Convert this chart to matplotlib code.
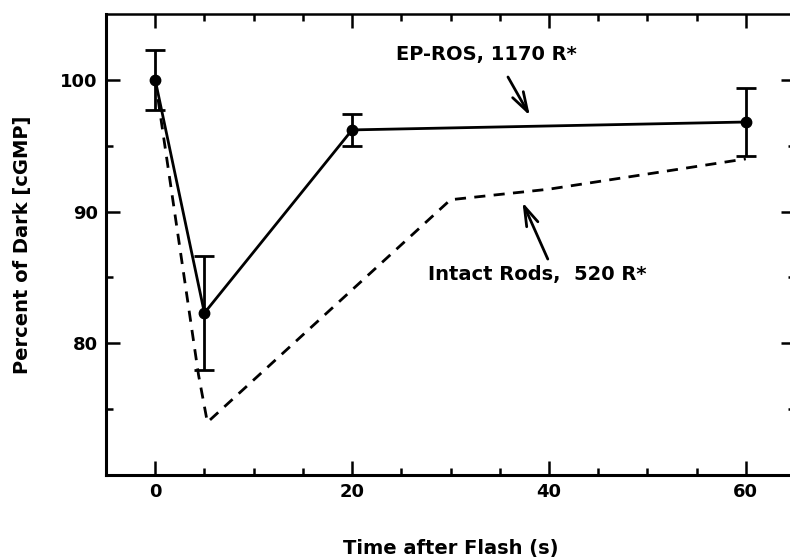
import matplotlib
matplotlib.use("Agg")
import matplotlib.pyplot as plt
from matplotlib.ticker import FixedLocator

# EP-ROS data (mean +/- error)
ep_time = [0, 5, 20, 60]
ep_value = [100.0, 82.3, 96.2, 96.8]
ep_err_low = [2.3, 4.3, 1.2, 2.6]
ep_err_high = [2.3, 4.3, 1.2, 2.6]

# Intact rods curve (dashed)
rod_time = [0, 4.4, 5.3, 30, 40, 60]
rod_value = [100.0, 77.6, 74.0, 90.9, 91.7, 94.0]

plt.rcParams["font.family"] = ["DejaVu Sans"]
plt.rcParams["font.weight"] = "bold"

fig = plt.figure(figsize=(7.9, 5.59), dpi=100)
ax = fig.add_axes([106 / 790, 84 / 559, 689 / 790, 461 / 559])

ax.plot(rod_time, rod_value, color="black", linewidth=2.0,
        dashes=(4, 3), zorder=2)
ax.errorbar(ep_time, ep_value, yerr=[ep_err_low, ep_err_high],
            color="black", linewidth=2.0, elinewidth=2.0, capsize=7,
            capthick=2.0, marker="o", markersize=7.5, zorder=3)

ax.set_xlim(-5, 65)
ax.set_ylim(70, 105)

ax.xaxis.set_major_locator(FixedLocator([0, 20, 40, 60]))
ax.xaxis.set_minor_locator(FixedLocator([5, 10, 15, 25, 30, 35, 45, 50, 55]))
ax.yaxis.set_major_locator(FixedLocator([80, 90, 100]))
ax.yaxis.set_minor_locator(FixedLocator([75, 85, 95]))

ax.tick_params(which="both", direction="in", top=True, right=True,
               width=1.8, labelsize=13, pad=6)
ax.tick_params(which="major", length=10)
ax.tick_params(which="minor", length=5)
for lbl in ax.get_xticklabels() + ax.get_yticklabels():
    lbl.set_fontweight("bold")

for side in ["left", "bottom", "right"]:
    ax.spines[side].set_linewidth(2.2)
ax.spines["top"].set_linewidth(1.8)

ax.set_xlabel("Time after Flash (s)", fontsize=14, fontweight="bold",
              labelpad=27)
ax.set_ylabel("Percent of Dark [cGMP]", fontsize=14, fontweight="bold",
              labelpad=20)

# annotations
arrow = dict(arrowstyle="->,head_length=0.7,head_width=0.22",
             color="black", lw=2.0, mutation_scale=20)
ax.annotate("", xy=(38.2, 97.1), xytext=(35.7, 100.4), arrowprops=arrow)
ax.text(33.6, 101.9, "EP-ROS, 1170 R*", fontsize=14, fontweight="bold",
        ha="center", va="center")

ax.annotate("", xy=(37.2, 90.9), xytext=(40.0, 86.2), arrowprops=arrow)
ax.text(38.8, 85.2, "Intact Rods,  520 R*", fontsize=14, fontweight="bold",
        ha="center", va="center")

fig.savefig("out.png", dpi=100)
